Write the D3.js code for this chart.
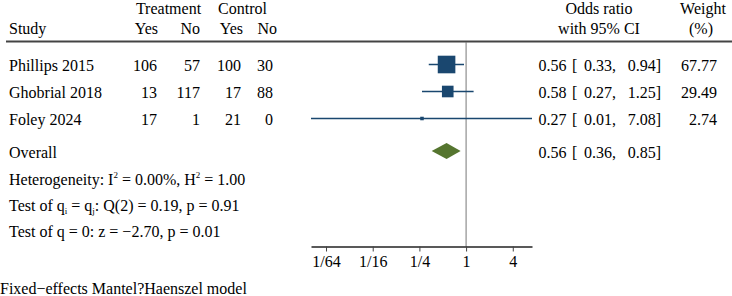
<!DOCTYPE html>
<html>
<head>
<meta charset="utf-8">
<script src="https://cdn.jsdelivr.net/npm/d3@7"></script>
<style>
  body { margin: 0; background: #fff; }
  svg text { font-family: "Liberation Serif", "Times New Roman", serif; font-size: 16px; fill: #000; }
</style>
</head>
<body>
<div class="forest"></div>
<script>
// study data
var studies = ["Phillips 2015", "Ghobrial 2018", "Foley 2024"];
var trtYes = [106, 13, 17];
var trtNo = [57, 117, 1];
var ctlYes = [100, 17, 21];
var ctlNo = [30, 88, 0];
var oddsRatio = [0.56, 0.58, 0.27];
var ciLow = [0.33, 0.27, 0.01];
var ciHigh = [0.94, 1.25, 7.08];
var weight = [67.77, 29.49, 2.74];
var overall = [0.56, 0.36, 0.85]; // es, lo, hi
var tickValues = [1/64, 1/16, 1/4, 1, 4];
var tickLabels = ["1/64", "1/16", "1/4", "1", "4"];

var w = 732, h = 296;
var rowY = [64.5, 91.5, 118.5];
var overallY = 151;
var axisY = 246.5;
var navy = "#1a476f", green = "#55752f";

var svg = d3.select(".forest").append("svg")
            .attr("width", w)
            .attr("height", h);

var xScale = d3.scaleLog().base(2)
               .domain([d3.min(ciLow), d3.max(ciHigh)])
               .range([311, 532]);

// headers
function txt(x, y, s, anchor) {
    return svg.append("text").attr("x", x).attr("y", y)
              .attr("text-anchor", anchor || "start").text(s);
}
txt(168.5, 14, "Treatment", "middle");
txt(242.5, 14, "Control", "middle");
txt(599, 14, "Odds ratio", "middle");
txt(703, 14, "Weight", "middle");
txt(9, 34, "Study");
txt(158, 34, "Yes", "end");
txt(200, 34, "No", "end");
txt(243, 34, "Yes", "end");
txt(277, 34, "No", "end");
txt(599, 34, "with 95% CI", "middle");
txt(701, 34, "(%)", "middle");

svg.append("line")
   .attr("x1", 6).attr("x2", w)
   .attr("y1", 41.5).attr("y2", 41.5)
   .attr("stroke", "#444").attr("stroke-width", 1.8);

// null line
svg.append("line")
   .attr("x1", xScale(1)).attr("x2", xScale(1))
   .attr("y1", 42).attr("y2", axisY)
   .attr("stroke", "#777").attr("stroke-width", 1);

var f2 = d3.format(".2f");
var maxW = d3.max(weight);

studies.forEach(function(s, i) {
    var y = rowY[i];
    var base = y + 6.5;
    txt(9, base, s);
    txt(157, base, trtYes[i], "end");
    txt(200, base, trtNo[i], "end");
    txt(241, base, ctlYes[i], "end");
    txt(273, base, ctlNo[i], "end");

    svg.append("line")
       .attr("x1", xScale(ciLow[i])).attr("x2", xScale(ciHigh[i]))
       .attr("y1", y).attr("y2", y)
       .attr("stroke", navy).attr("stroke-width", 1.3);
    var side = Math.sqrt(weight[i] / maxW) * 17.6;
    svg.append("rect")
       .attr("x", xScale(oddsRatio[i]) - side / 2)
       .attr("y", y - side / 2)
       .attr("width", side).attr("height", side)
       .attr("fill", navy);

    txt(566.5, base, f2(oddsRatio[i]), "end");
    txt(572, base, "[");
    txt(616, base, f2(ciLow[i]) + ",", "end");
    txt(661, base, f2(ciHigh[i]) + "]", "end");
    txt(717, base, f2(weight[i]), "end");
});

// overall
var ob = overallY + 7;
txt(9, ob, "Overall");
var dx0 = xScale(overall[1]), dx1 = xScale(overall[2]), dxm = xScale(overall[0]);
svg.append("path")
   .attr("d", "M" + dx0 + "," + overallY + "L" + dxm + "," + (overallY - 8) +
              "L" + dx1 + "," + overallY + "L" + dxm + "," + (overallY + 8) + "Z")
   .attr("fill", green);
txt(566.5, ob, f2(overall[0]), "end");
txt(572, ob, "[");
txt(616, ob, f2(overall[1]) + ",", "end");
txt(661, ob, f2(overall[2]) + "]", "end");

// heterogeneity and tests
var t1 = txt(9, 185, "Heterogeneity: I");
t1.append("tspan").attr("dy", -7).style("font-size", "9px").text("2");
t1.append("tspan").attr("dy", 7).text(" = 0.00%, H");
t1.append("tspan").attr("dy", -7).style("font-size", "9px").text("2");
t1.append("tspan").attr("dy", 7).text(" = 1.00");

var t2 = txt(9, 211, "Test of q");
t2.append("tspan").attr("dy", 3).style("font-size", "9px").text("i");
t2.append("tspan").attr("dy", -3).text(" = q");
t2.append("tspan").attr("dy", 3).style("font-size", "9px").text("j");
t2.append("tspan").attr("dy", -3).text(": Q(2) = 0.19, p = 0.91");

txt(9, 237, "Test of q = 0: z = \u22122.70, p = 0.01");

txt(0, 294, "Fixed\u2212effects Mantel?Haenszel model");

// axis
var xAxis = d3.axisBottom(xScale)
              .tickValues(tickValues)
              .tickFormat(function(d, i) { return tickLabels[i]; })
              .tickSize(5)
              .tickSizeOuter(0);
var gx = svg.append("g")
            .attr("transform", "translate(0," + axisY + ")")
            .call(xAxis);
gx.select(".domain").attr("stroke", "#222").attr("stroke-width", 1.3);
gx.selectAll(".tick line").attr("stroke", "#444");
gx.selectAll(".tick text")
  .attr("y", 9)
  .style("font-family", "'Liberation Serif', serif")
  .style("font-size", "16px")
  .attr("fill", "#000");
</script>
</body>
</html>
